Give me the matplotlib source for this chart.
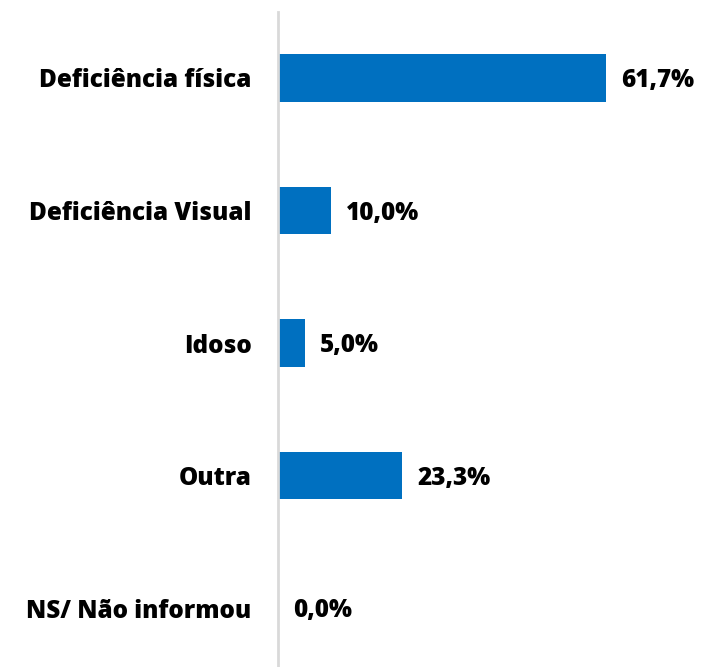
import matplotlib
matplotlib.use("Agg")
import matplotlib.pyplot as plt
from matplotlib.transforms import offset_copy

categories = ["Deficiência física", "Deficiência Visual", "Idoso", "Outra", "NS/ Não informou"]
values = [61.7, 10.0, 5.0, 23.3, 0.0]
labels = ["61,7%", "10,0%", "5,0%", "23,3%", "0,0%"]

plt.rcParams['font.family'] = ['Open Sans', 'DejaVu Sans']

W, H = 702, 667
fig = plt.figure(figsize=(W/100, H/100), dpi=100)
ax = fig.add_axes([278/W, 0, 1 - 278/W, (H-12)/H])

ys = list(range(len(categories)))
ax.barh(ys, values, height=0.36, color="#0070C0", zorder=2)
ax.set_xlim(0, 424/5.316)
ax.set_ylim(4.445, -0.498)

for s in ["top", "right", "bottom"]:
    ax.spines[s].set_visible(False)
ax.spines["left"].set_color("#D9D9D9")
ax.spines["left"].set_linewidth(2)
ax.set_xticks([])
ax.set_yticks(ys)
ax.set_yticklabels(categories, fontsize=17.5, fontweight=800, color="black")
ax.tick_params(axis="y", length=0, pad=19)

for y, v, lab in zip(ys, values, labels):
    ax.text(v, y, lab, transform=offset_copy(ax.transData, fig=fig, x=11, y=-2, units="points"),
            ha="left", va="center", fontsize=17.5, fontweight=800, color="black")

fig.savefig("out.png", dpi=100)
